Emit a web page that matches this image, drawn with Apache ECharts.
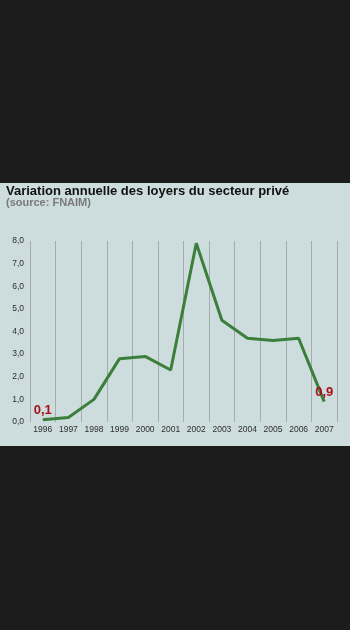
<!DOCTYPE html>
<html>
<head>
<meta charset="utf-8">
<script src="https://cdn.jsdelivr.net/npm/echarts@6/dist/echarts.min.js"></script>
<style>
  html, body { margin: 0; padding: 0; background: #1c1c1c; }
  #chart { width: 350px; height: 630px; }
</style>
</head>
<body>
<div id="chart"></div>
<script>
// Annual change in private-sector rents (%), FNAIM
const years = ['1996', '1997', '1998', '1999', '2000', '2001', '2002', '2003', '2004', '2005', '2006', '2007'];
const variation = [0.1, 0.2, 1.0, 2.8, 2.9, 2.3, 7.9, 4.5, 3.7, 3.6, 3.7, 0.9];
const labelledYears = ['1996', '2007'];

const fmt = v => Number(v).toFixed(1).replace('.', ',');
const FONT = 'Liberation Sans, Arial, sans-serif';

const seriesData = variation.map((v, i) => {
  if (labelledYears.indexOf(years[i]) >= 0) {
    return {
      value: v,
      label: {
        show: true,
        position: 'top',
        distance: 3,
        formatter: p => fmt(p.value),
        color: '#aa101a',
        fontSize: 13,
        fontWeight: 'bold',
        fontFamily: FONT
      }
    };
  }
  return v;
});

const chart = echarts.init(document.getElementById('chart'), null, { renderer: 'canvas' });
chart.setOption({
  animation: false,
  backgroundColor: 'transparent',
  graphic: [{
    type: 'rect',
    z: -10,
    silent: true,
    shape: { x: 0, y: 183, width: 350, height: 263 },
    style: { fill: '#cddcdc' }
  }],
  title: [{
    text: 'Variation annuelle des loyers du secteur privé',
    left: 1,
    top: 180,
    textStyle: { fontSize: 13, fontWeight: 'bold', color: '#111', fontFamily: FONT }
  }, {
    text: '(source: FNAIM)',
    left: 1,
    top: 192,
    textStyle: { fontSize: 11, fontWeight: 'bold', color: '#7a7a7a', fontFamily: FONT }
  }],
  grid: { left: 30, right: 13, top: 241, bottom: 208 },
  xAxis: {
    type: 'category',
    data: years,
    boundaryGap: true,
    axisLine: { show: false },
    axisTick: { show: false },
    axisLabel: { color: '#2e2e2e', fontSize: 8.5, margin: 3, interval: 0, fontFamily: FONT },
    splitLine: { show: true, lineStyle: { color: '#a3adab', width: 1 } }
  },
  yAxis: {
    type: 'value',
    min: 0,
    max: 8,
    interval: 1,
    axisLine: { show: false },
    axisTick: { show: false },
    splitLine: { show: false },
    axisLabel: { color: '#2e2e2e', fontSize: 8.5, margin: 6, formatter: v => fmt(v), fontFamily: FONT }
  },
  series: [{
    type: 'line',
    data: seriesData,
    symbol: 'circle',
    symbolSize: 0,
    showSymbol: true,
    itemStyle: { color: '#3b7f3b' },
    lineStyle: { color: '#3b7f3b', width: 3 },
    z: 3
  }]
});
</script>
</body>
</html>
